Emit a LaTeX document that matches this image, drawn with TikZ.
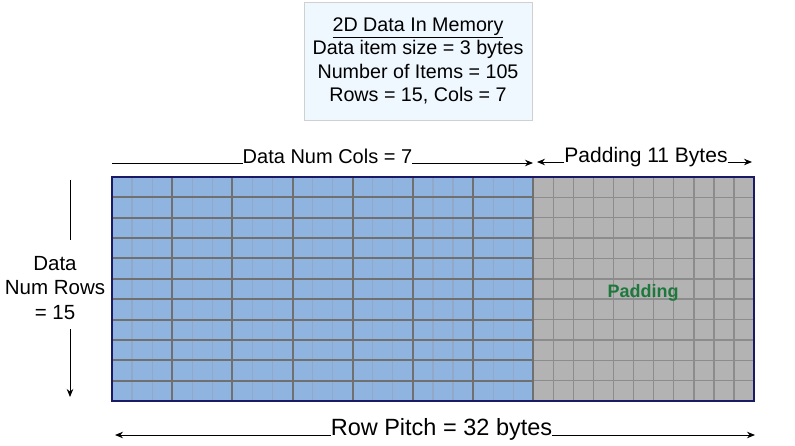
\documentclass[tikz,border=0pt]{standalone}
\usepackage{fontspec}
\setmainfont{Liberation Sans}
\usetikzlibrary{arrows.meta, positioning}
\definecolor{infofill}{RGB}{240,248,255}
\definecolor{infoline}{RGB}{208,208,208}
\definecolor{datablue}{RGB}{143,180,224}
\definecolor{padgray}{RGB}{179,179,179}
\definecolor{borderblue}{RGB}{26,26,102}
\definecolor{thickgrid}{RGB}{112,112,112}
\definecolor{thingrid}{RGB}{145,168,200}
\definecolor{padgrid}{RGB}{140,140,140}
\definecolor{padtext}{RGB}{30,120,60}
\tikzstyle{infobox} = [rectangle, draw=infoline, fill=infofill, line width=1pt, minimum width=228pt, minimum height=118pt, align=center, font=\fontsize{19.7}{23.3}\selectfont]
\tikzstyle{dimlabel} = [inner sep=0pt, anchor=base]
\tikzstyle{dimline} = [line width=1pt]
\tikzstyle{arrow} = [line width=1pt,->,>={Stealth[length=8pt,width=6.5pt]}]

\begin{document}
\begin{tikzpicture}[x=1pt, y=-1pt, every node/.style={font=\fontsize{20}{24}\selectfont}]
    \useasboundingbox (0,0) rectangle (795,445);

    % memory block
    \fill[datablue] (112,177) rectangle (533.3,401);
    \fill[padgray]  (533.3,177) rectangle (754,401);
    \foreach \i in {1,2,4,5,7,8,10,11,13,14,16,17,19,20}
        \draw[thingrid, line width=1.2pt] (112+\i*20.0625,177) -- (112+\i*20.0625,401);
    \foreach \i in {22,...,31}
        \draw[padgrid, line width=1.4pt] (112+\i*20.0625,177) -- (112+\i*20.0625,401);
    \foreach \j in {1,...,10} {
        \draw[padgrid, line width=1.4pt] (533.3,177+\j*20.36) -- (754,177+\j*20.36);
        \draw[thickgrid, line width=2pt] (112,177+\j*20.36) -- (533.3,177+\j*20.36);
    }
    \foreach \i in {3,6,...,21}
        \draw[thickgrid, line width=2pt] (112+\i*20.0625,177) -- (112+\i*20.0625,401);
    \draw[borderblue, line width=1.6pt] (112,177) rectangle (754,401);

    \node (paddingtext) at (643,293) [text=padtext, font=\fontsize{18}{22}\selectfont\bfseries] {Padding};

    \node (infobox) at (418,61) [infobox] {\underline{2D Data In Memory}\\Data item size = 3 bytes\\Number of Items = 105\\Rows = 15, Cols = 7};

    % column labels
    \node (colslabel)    at (327.5,163) [dimlabel] {Data Num Cols = 7};
    \node (paddinglabel) at (646,162)   [dimlabel, font=\fontsize{21}{25}\selectfont] {Padding 11 Bytes};
    \node (pitchlabel)   at (441.5,435) [dimlabel, font=\fontsize{23.5}{28}\selectfont] {Row Pitch = 32 bytes};
    \node (rowslabel)    at (55,288)    [align=center, font=\fontsize{20.5}{24.5}\selectfont] {Data\\Num Rows\\= 15};

    \coordinate (colsleft)     at (112,163);
    \coordinate (colsright)    at (533,163);
    \coordinate (paddingleft)  at (537,162);
    \coordinate (paddingright) at (752,162);
    \coordinate (pitchleft)    at (115,435);
    \coordinate (pitchright)   at (755,435);
    \coordinate (rowstop)      at (70,180);
    \coordinate (rowsgaptop)   at (70,240);
    \coordinate (rowsgapbot)   at (70,329);
    \coordinate (rowsbottom)   at (70,397);

    \draw [dimline] (colsleft)           -- (colslabel.base west);
    \draw [arrow]   (colslabel.base east) -- (colsright);
    \draw [arrow]   (paddinglabel.base west) -- (paddingleft);
    \draw [arrow]   (paddinglabel.base east) -- (paddingright);
    \draw [arrow]   (pitchlabel.base west)   -- (pitchleft);
    \draw [arrow]   (pitchlabel.base east)   -- (pitchright);
    \draw [dimline] (rowstop)    -- (rowsgaptop);
    \draw [arrow]   (rowsgapbot) -- (rowsbottom);

\end{tikzpicture}
\end{document}
